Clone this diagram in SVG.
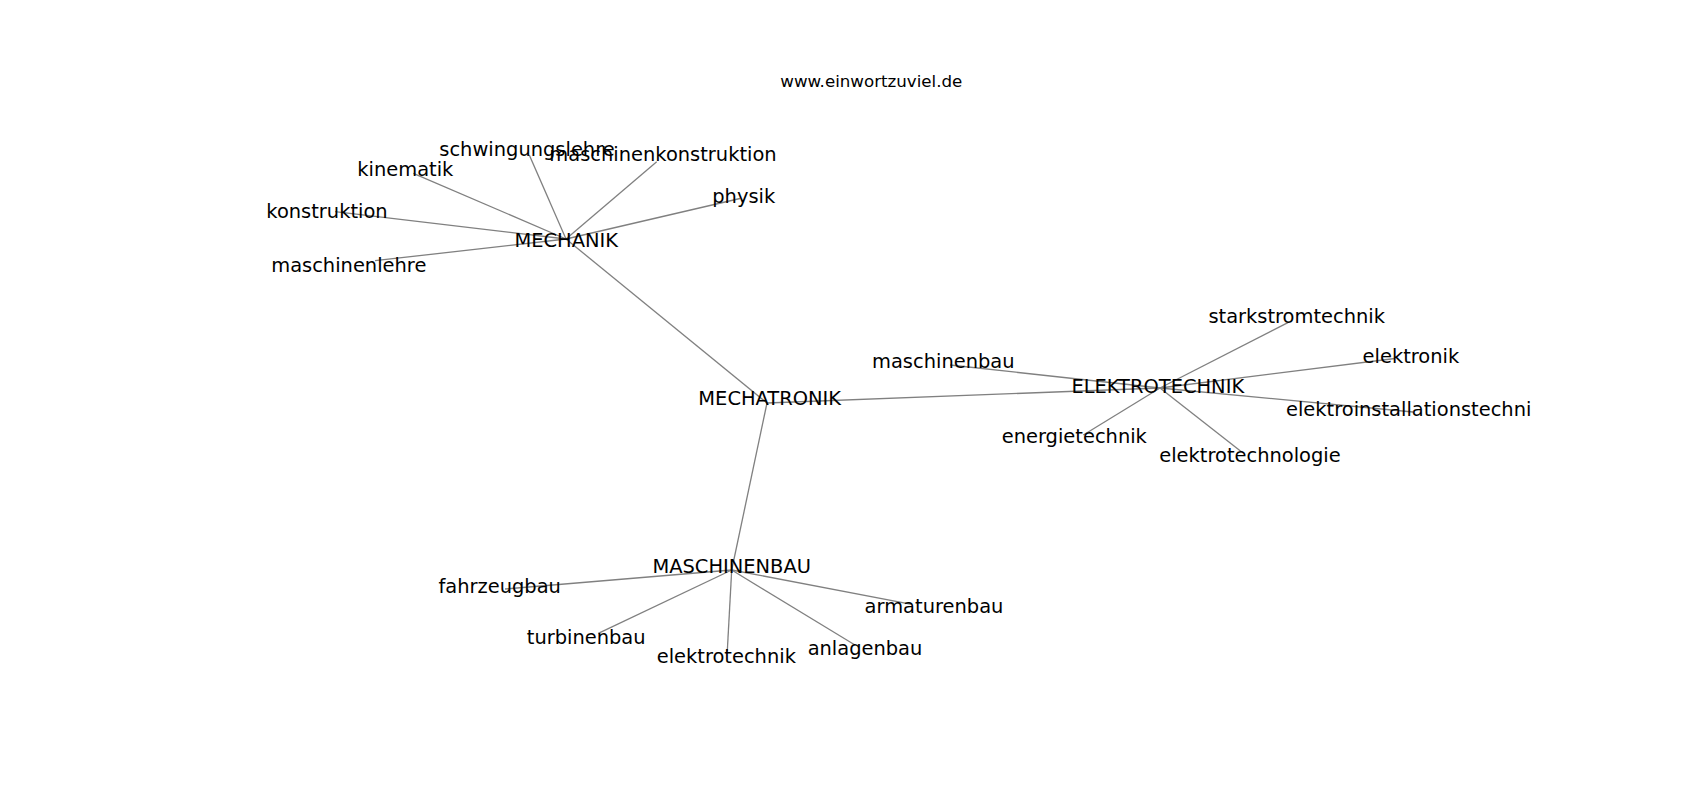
<svg xmlns="http://www.w3.org/2000/svg" width="1700" height="800" viewBox="0 0 1700 800">
<style>
.edge{stroke:#808080;stroke-width:1.3;fill:none}
.lbl{font-family:"DejaVu Sans","Liberation Sans",sans-serif;font-size:19.44px;fill:#000;text-anchor:middle}
.title{font-family:"DejaVu Sans","Liberation Sans",sans-serif;font-size:16.67px;fill:#000;text-anchor:middle}
</style>
<rect width="1700" height="800" fill="#fff"/>
<g id="connectors">
<line class="edge" x1="566" y1="239" x2="529.3" y2="155"/>
<line class="edge" x1="566" y1="239" x2="413.3" y2="173.3"/>
<line class="edge" x1="566" y1="239" x2="335" y2="211.7"/>
<line class="edge" x1="566" y1="239" x2="375" y2="260.7"/>
<line class="edge" x1="566" y1="239" x2="656.7" y2="161.7"/>
<line class="edge" x1="566" y1="239" x2="740" y2="198.5"/>
<line class="edge" x1="566" y1="239" x2="767" y2="403"/>
<line class="edge" x1="767" y1="403" x2="1160" y2="388"/>
<line class="edge" x1="767" y1="403" x2="731.7" y2="570"/>
<line class="edge" x1="1160" y1="388" x2="950" y2="365"/>
<line class="edge" x1="1160" y1="388" x2="1287.9" y2="322.7"/>
<line class="edge" x1="1160" y1="388" x2="1395" y2="358.5"/>
<line class="edge" x1="1160" y1="388" x2="1413" y2="412"/>
<line class="edge" x1="1160" y1="388" x2="1083.3" y2="435"/>
<line class="edge" x1="1160" y1="388" x2="1241.4" y2="451.7"/>
<line class="edge" x1="731.7" y1="570" x2="505" y2="589"/>
<line class="edge" x1="731.7" y1="570" x2="598.3" y2="633.3"/>
<line class="edge" x1="731.7" y1="570" x2="727.3" y2="651"/>
<line class="edge" x1="731.7" y1="570" x2="855" y2="645"/>
<line class="edge" x1="731.7" y1="570" x2="911.7" y2="604.3"/>
</g>
<g id="title"><text class="title" x="871.3" y="86.7">www.einwortzuviel.de</text></g>
<g id="n-mechanik"><text class="lbl" x="566.2" y="247.3">MECHANIK</text></g>
<g id="n-schwingungslehre"><text class="lbl" x="527" y="155.7">schwingungslehre</text></g>
<g id="n-kinematik"><text class="lbl" x="405.3" y="175.7">kinematik</text></g>
<g id="n-konstruktion"><text class="lbl" x="327" y="217.7">konstruktion</text></g>
<g id="n-maschinenlehre"><text class="lbl" x="348.8" y="271.7">maschinenlehre</text></g>
<g id="n-maschinenkonstruktion"><text class="lbl" x="663" y="161">maschinenkonstruktion</text></g>
<g id="n-physik"><text class="lbl" x="743.7" y="203.3">physik</text></g>
<g id="n-mechatronik"><text class="lbl" x="769.7" y="405">MECHATRONIK</text></g>
<g id="n-elektrotechnik-hub"><text class="lbl" x="1157.8" y="393.3">ELEKTROTECHNIK</text></g>
<g id="n-maschinenbau-leaf"><text class="lbl" x="943.3" y="368.3">maschinenbau</text></g>
<g id="n-starkstromtechnik"><text class="lbl" x="1296.7" y="323.3">starkstromtechnik</text></g>
<g id="n-elektronik"><text class="lbl" x="1410.9" y="363.3">elektronik</text></g>
<g id="n-elektroinstallationstechni"><text class="lbl" x="1408.7" y="416">elektroinstallationstechni</text></g>
<g id="n-energietechnik"><text class="lbl" x="1074.3" y="443.3">energietechnik</text></g>
<g id="n-elektrotechnologie"><text class="lbl" x="1250" y="462.3">elektrotechnologie</text></g>
<g id="n-maschinenbau-hub"><text class="lbl" x="731.7" y="573.3">MASCHINENBAU</text></g>
<g id="n-fahrzeugbau"><text class="lbl" x="499.7" y="592.7">fahrzeugbau</text></g>
<g id="n-turbinenbau"><text class="lbl" x="586.2" y="644">turbinenbau</text></g>
<g id="n-elektrotechnik-leaf"><text class="lbl" x="726.3" y="663.3">elektrotechnik</text></g>
<g id="n-anlagenbau"><text class="lbl" x="865" y="655">anlagenbau</text></g>
<g id="n-armaturenbau"><text class="lbl" x="934" y="613.3">armaturenbau</text></g>
</svg>
